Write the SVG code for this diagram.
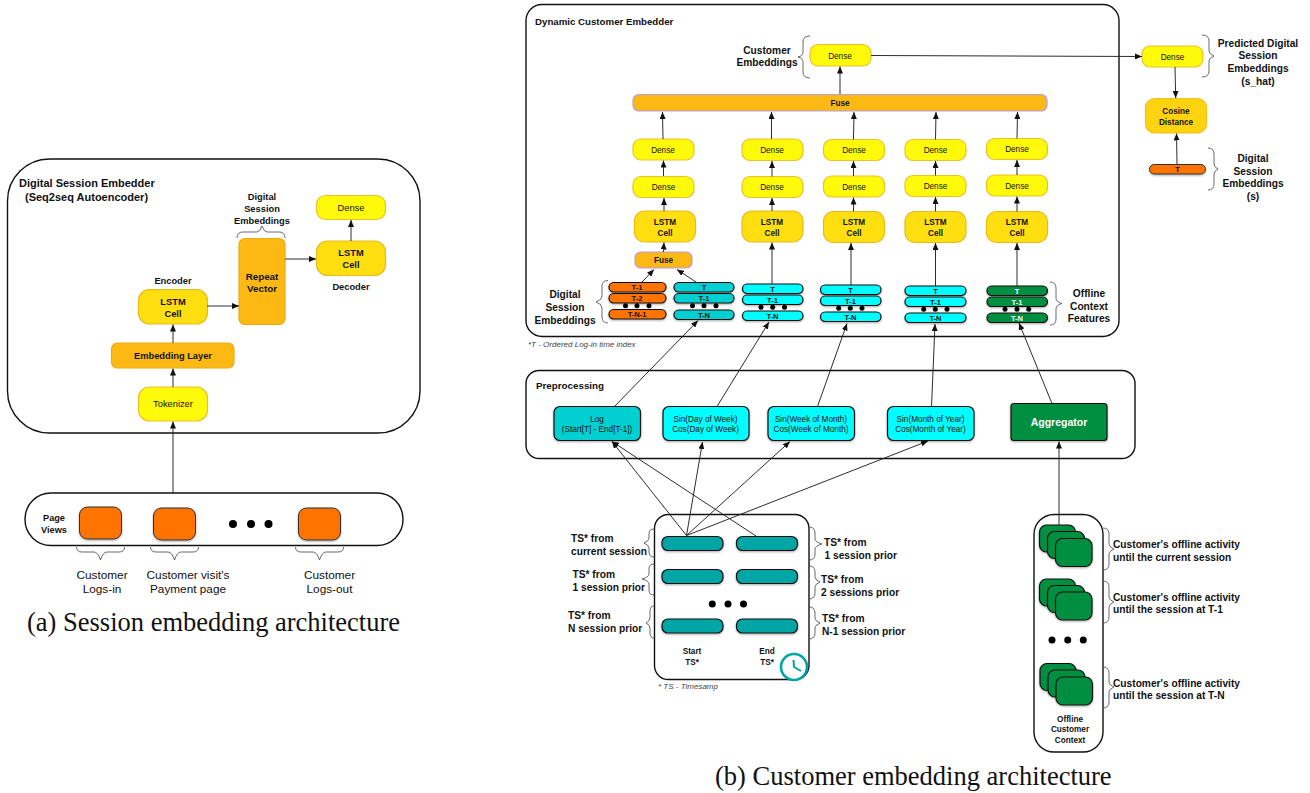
<svg xmlns="http://www.w3.org/2000/svg" width="1310" height="793" viewBox="0 0 1310 793">
<style>
text{font-family:"Liberation Sans",Arial,sans-serif;fill:#111;text-anchor:middle}
.b{font-weight:700}
.l{text-anchor:start}
.s8{font-size:8.2px}.s9{font-size:9.3px}.s98{font-size:9.8px}.s10{font-size:10.2px}.s11{font-size:11px}.s12{font-size:11.8px}
.it{font-style:italic;font-size:8px;fill:#444;text-anchor:start}
.cap{font-family:"Liberation Serif","Times New Roman",serif;font-size:26.5px;text-anchor:start}
.panel{fill:#fff;stroke:#111;stroke-width:1.4}
.y{fill:#FFF90A;stroke:#EBC12B;stroke-width:1.2}
.ls{fill:#FFDF10;stroke:#E9BA1E;stroke-width:1.2}
.am{fill:#FDB913;stroke:#EFAA12;stroke-width:1.2}
.fu{fill:#FDB913;stroke:#B89CE2;stroke-width:1.2}
.co{fill:#FFD30F;stroke:#F2BE1A;stroke-width:1.2}
.or{fill:#FF7300;stroke:#333;stroke-width:1;filter:url(#sh)}
.p{stroke:#111;stroke-width:1.2;filter:url(#sh)}
.tl{fill:#00D0D2}.cy{fill:#00FDFF}.gr{fill:#008E40}.bar{fill:#00A5A5}
.dot{fill:#000}
.w{fill:#fff}
.br{fill:none;stroke:#444;stroke-width:.8}
.c line{stroke:#222;stroke-width:.95;marker-end:url(#a)}
</style>
<defs>
<marker id="a" markerUnits="userSpaceOnUse" markerWidth="7" markerHeight="6" refX="7" refY="3" orient="auto"><path d="M0 0L7 3L0 6z" fill="#111"/></marker>
<filter id="sh" x="-20%" y="-30%" width="140%" height="170%"><feDropShadow dx="0" dy="1" stdDeviation="1" flood-color="#000" flood-opacity=".35"/></filter>
</defs>

<g id="session-embedder">
<rect class="panel" x="7.5" y="159" width="412.5" height="274" rx="42"/>
<text class="b s11 l" x="19" y="187">Digital Session Embedder</text>
<text class="b s11 l" x="25" y="201">(Seq2seq Autoencoder)</text>
</g>
<g id="dense-a"><rect class="y" x="316.500" y="195.500" width="69" height="24" rx="9"/><text class="s9" x="351" y="210.500">Dense</text></g>
<g id="decoder-lstm"><rect class="ls" x="316.500" y="241" width="69" height="34.500" rx="11"/><text class="b s9" x="351" y="256">LSTM</text><text class="b s9" x="351" y="268">Cell</text></g>
<text class="b s9" x="351" y="289.500">Decoder</text>
<g id="repeat-vector"><rect class="am" x="239" y="238.500" width="46" height="86" rx="6"/><text class="b s98" x="262" y="279.500">Repeat</text><text class="b s98" x="262" y="291.500">Vector</text></g>
<g id="emb-label"><text class="b s9" x="262" y="199.500">Digital</text><text class="b s9" x="262" y="211.500">Session</text><text class="b s9" x="262" y="223.500">Embeddings</text><path class="br" d="M237 238Q237 232 243 232L257 232Q260 232 262 226Q264 232 267 232L279 232Q285 232 285 238"/></g>
<g id="encoder-lstm"><rect class="ls" x="138.500" y="289.500" width="69" height="34.500" rx="11"/><text class="b s9" x="173" y="304.500">LSTM</text><text class="b s9" x="173" y="316.500">Cell</text></g>
<text class="b s9" x="173" y="283.500">Encoder</text>
<g id="embedding-layer"><rect class="am" x="111.500" y="343" width="122.500" height="25" rx="6"/><text class="b s9" x="173" y="359">Embedding Layer</text></g>
<g id="tokenizer"><rect class="y" x="138.500" y="387" width="69" height="34" rx="11"/><text class="s9" x="173" y="407">Tokenizer</text></g>

<g id="page-views">
<rect class="panel" x="25" y="493" width="378" height="52.500" rx="26"/>
<text class="b" font-size="9.200" x="54" y="520.500">Page</text><text class="b" font-size="9.200" x="54" y="532.500">Views</text>
<rect class="or" x="79.500" y="507" width="42" height="32" rx="8"/>
<rect class="or" x="153.500" y="508" width="42" height="32" rx="8"/>
<rect class="or" x="298.500" y="508" width="42" height="32" rx="8"/>
<circle class="dot" cx="233" cy="524" r="4"/><circle class="dot" cx="251" cy="524" r="4"/><circle class="dot" cx="268.500" cy="524" r="4"/>
</g>
<g id="page-labels">
<path class="br" d="M76.500 547Q76.500 552 82 552L94 552Q98 552 100.500 560Q103 552 107 552L119 552Q124.500 552 124.500 547"/>
<path class="br" d="M150.500 547Q150.500 552 156 552L168 552Q172 552 174.500 560Q177 552 181 552L193 552Q198.500 552 198.500 547"/>
<path class="br" d="M295.500 547Q295.500 552 301 552L313 552Q317 552 319.500 560Q322 552 326 552L338 552Q343.500 552 343.500 547"/>
<text class="s12" x="102" y="579">Customer</text><text class="s12" x="102" y="592.500">Logs-in</text>
<text class="s12" x="188" y="579">Customer visit's</text><text class="s12" x="188" y="592.500">Payment page</text>
<text class="s12" x="329.500" y="579">Customer</text><text class="s12" x="329.500" y="592.500">Logs-out</text>
</g>
<text class="cap" x="27" y="631">(a) Session embedding architecture</text>

<g id="customer-embedder">
<rect class="panel" x="526" y="4.500" width="593" height="332" rx="16"/>
<text class="b l" font-size="9.700" x="535" y="25">Dynamic Customer Embedder</text>
<text class="it" x="528" y="347">*T - Ordered Log-in time index</text>
</g>
<g id="customer-dense"><rect class="y" x="810" y="44.500" width="61" height="21.500" rx="8"/><text class="s8" x="840" y="58.500">Dense</text></g>
<g id="customer-emb-label"><text class="b s10" x="767" y="53.500">Customer</text><text class="b s10" x="767" y="66">Embeddings</text><path class="br" d="M810 36Q803 36 803 42L803 52Q803 56 798 57Q803 58 803 62L803 72Q803 78 810 78"/></g>
<g id="fuse-top"><rect class="fu" x="633" y="94.500" width="414" height="16.500" rx="6"/><text class="b s8" x="840" y="106">Fuse</text></g>

<g id="col1"><rect class="y" x="633" y="139" width="61" height="21" rx="8"/><text class="s8" x="663" y="152.500">Dense</text><rect class="y" x="633" y="176.500" width="61" height="21" rx="8"/><text class="s8" x="663.500" y="190">Dense</text><rect class="ls" x="634.500" y="211" width="61" height="31" rx="10"/><text class="b s8" x="665" y="224.500">LSTM</text><text class="b s8" x="665" y="235.500">Cell</text></g>
<g id="col2"><rect class="y" x="742" y="139" width="61" height="21.500" rx="8"/><text class="s8" x="772" y="153">Dense</text><rect class="y" x="742" y="176.500" width="61" height="21" rx="8"/><text class="s8" x="772" y="190">Dense</text><rect class="ls" x="742" y="211" width="61" height="31" rx="10"/><text class="b s8" x="772" y="224.500">LSTM</text><text class="b s8" x="772" y="235.500">Cell</text></g>
<g id="col3"><rect class="y" x="823.500" y="139.500" width="61" height="21" rx="8"/><text class="s8" x="854" y="153">Dense</text><rect class="y" x="823.500" y="176" width="61" height="21" rx="8"/><text class="s8" x="854" y="190">Dense</text><rect class="ls" x="823.500" y="211.500" width="61" height="31" rx="10"/><text class="b s8" x="854" y="225">LSTM</text><text class="b s8" x="854" y="236">Cell</text></g>
<g id="col4"><rect class="y" x="905" y="139.500" width="61" height="21" rx="8"/><text class="s8" x="935.500" y="153">Dense</text><rect class="y" x="905" y="175.500" width="61" height="21" rx="8"/><text class="s8" x="935.500" y="189">Dense</text><rect class="ls" x="905" y="211.500" width="61" height="31" rx="10"/><text class="b s8" x="935.500" y="225">LSTM</text><text class="b s8" x="935.500" y="236">Cell</text></g>
<g id="col5"><rect class="y" x="986.500" y="138.500" width="61" height="21" rx="8"/><text class="s8" x="1017" y="152">Dense</text><rect class="y" x="986.500" y="175" width="61" height="21" rx="8"/><text class="s8" x="1017" y="188.500">Dense</text><rect class="ls" x="986.500" y="211.500" width="61" height="31" rx="10"/><text class="b s8" x="1017" y="225">LSTM</text><text class="b s8" x="1017" y="236">Cell</text></g>
<g id="fuse-small"><rect class="fu" x="635" y="252" width="57" height="16" rx="6"/><text class="b s8" x="663.500" y="263">Fuse</text></g>

<g id="stack-orange"><rect class="p" fill="#FF7300" x="609" y="282.500" width="57" height="9.500" rx="4.700"/><rect class="p" fill="#FF7300" x="609" y="293.500" width="57" height="9.500" rx="4.700"/><rect class="p" fill="#FF7300" x="609" y="309.500" width="57" height="9.500" rx="4.700"/><text class="b" font-size="7.500" x="637" y="290">T-1</text><text class="b" font-size="7.500" x="637" y="301">T-2</text><text class="b" font-size="7.500" x="637" y="317">T-N-1</text><circle class="dot" cx="625.500" cy="305.800" r="2.500"/><circle class="dot" cx="637" cy="305.800" r="2.500"/><circle class="dot" cx="649" cy="305.800" r="2.500"/></g>
<g id="stack-1"><rect class="p tl" x="674" y="282.500" width="60" height="9.500" rx="4.700"/><rect class="p tl" x="674" y="293.500" width="60" height="9.500" rx="4.700"/><rect class="p tl" x="674" y="310" width="60" height="9.500" rx="4.700"/><text class="b" font-size="7.500" x="704" y="290">T</text><text class="b" font-size="7.500" x="704" y="301">T-1</text><text class="b" font-size="7.500" x="704" y="317.500">T-N</text><circle class="dot" cx="692.500" cy="305.800" r="2.500"/><circle class="dot" cx="704" cy="305.800" r="2.500"/><circle class="dot" cx="716" cy="305.800" r="2.500"/></g>
<g id="stack-2"><rect class="p cy" x="742.500" y="284" width="60.500" height="9.500" rx="4.700"/><rect class="p cy" x="742.500" y="295" width="60.500" height="9.500" rx="4.700"/><rect class="p cy" x="742.500" y="311" width="60.500" height="9.500" rx="4.700"/><text class="b" font-size="7.500" x="772.500" y="291.500">T</text><text class="b" font-size="7.500" x="772.500" y="302.500">T-1</text><text class="b" font-size="7.500" x="772.500" y="318.500">T-N</text><circle class="dot" cx="761" cy="307.300" r="2.500"/><circle class="dot" cx="772.700" cy="307.300" r="2.500"/><circle class="dot" cx="784.500" cy="307.300" r="2.500"/></g>
<g id="stack-3"><rect class="p cy" x="820.500" y="285" width="60.500" height="9.500" rx="4.700"/><rect class="p cy" x="820.500" y="296" width="60.500" height="9.500" rx="4.700"/><rect class="p cy" x="820.500" y="312" width="60.500" height="9.500" rx="4.700"/><text class="b" font-size="7.500" x="850.500" y="292.500">T</text><text class="b" font-size="7.500" x="850.500" y="303.500">T-1</text><text class="b" font-size="7.500" x="850.500" y="319.500">T-N</text><circle class="dot" cx="838.700" cy="308.300" r="2.500"/><circle class="dot" cx="850.300" cy="308.300" r="2.500"/><circle class="dot" cx="862" cy="308.300" r="2.500"/></g>
<g id="stack-4"><rect class="p cy" x="905" y="286" width="61" height="9.500" rx="4.700"/><rect class="p cy" x="905" y="297" width="61" height="9.500" rx="4.700"/><rect class="p cy" x="905" y="313" width="61" height="9.500" rx="4.700"/><text class="b" font-size="7.500" x="935.500" y="293.500">T</text><text class="b" font-size="7.500" x="935.500" y="304.500">T-1</text><text class="b" font-size="7.500" x="935.500" y="320.500">T-N</text><circle class="dot" cx="923.700" cy="309.300" r="2.500"/><circle class="dot" cx="935.300" cy="309.300" r="2.500"/><circle class="dot" cx="947" cy="309.300" r="2.500"/></g>
<g id="stack-5"><rect class="p gr" x="987" y="286" width="60.500" height="9.500" rx="4.700"/><rect class="p gr" x="987" y="297" width="60.500" height="9.500" rx="4.700"/><rect class="p gr" x="987" y="313" width="60.500" height="9.500" rx="4.700"/><text class="b w" font-size="7.500" x="1017" y="293.500">T</text><text class="b w" font-size="7.500" x="1017" y="304.500">T-1</text><text class="b w" font-size="7.500" x="1017" y="320.500">T-N</text><circle class="dot" cx="1005" cy="309.300" r="2.500"/><circle class="dot" cx="1017" cy="309.300" r="2.500"/><circle class="dot" cx="1028.700" cy="309.300" r="2.500"/></g>
<g id="digital-label"><text class="b s10" x="565" y="298">Digital</text><text class="b s10" x="565" y="311">Session</text><text class="b s10" x="565" y="323.500">Embeddings</text><path class="br" d="M608 280.500Q602 280.500 602 286L602 296Q602 300 596 302Q602 304 602 308L602 317Q602 323 608 323"/></g>
<g id="offline-label"><text class="b s10" x="1089" y="297">Offline</text><text class="b s10" x="1089" y="309.500">Context</text><text class="b s10" x="1089" y="322">Features</text><path class="br" d="M1050 282Q1056 282 1056 288L1056 298Q1056 302 1062 303.500Q1056 305 1056 309L1056 319Q1056 325 1050 325"/></g>

<g id="pred-dense"><rect class="y" x="1142" y="46" width="61" height="21" rx="8"/><text class="s8" x="1172.500" y="60">Dense</text></g>
<g id="cosine"><rect class="co" x="1145.500" y="98.500" width="61" height="34.500" rx="9"/><text class="b s8" x="1176" y="114">Cosine</text><text class="b s8" x="1176" y="124.500">Distance</text></g>
<g id="s-t"><rect class="or" x="1149.500" y="164.500" width="56" height="9.500" rx="4.700"/><text class="b" font-size="7.500" x="1177.500" y="172">T</text></g>
<g id="pred-label"><text class="b s10" x="1258" y="46.500">Predicted Digital</text><text class="b s10" x="1258" y="59">Session</text><text class="b s10" x="1258" y="71.500">Embeddings</text><text class="b s10" x="1258" y="84.500">(s_hat)</text><path class="br" d="M1202 35Q1209 35 1209 41L1209 51Q1209 54 1214 56Q1209 58 1209 61L1209 71Q1209 77 1202 77"/></g>
<g id="s-label"><text class="b s10" x="1253" y="161.500">Digital</text><text class="b s10" x="1253" y="174.500">Session</text><text class="b s10" x="1253" y="187">Embeddings</text><text class="b s10" x="1253" y="200">(s)</text><path class="br" d="M1208 148Q1214 148 1214 154L1214 164Q1214 167 1218 169Q1214 171 1214 174L1214 184Q1214 190 1208 190"/></g>

<g id="preprocessing">
<rect class="panel" x="526" y="370.500" width="609" height="88" rx="13"/>
<text class="b s98 l" x="536" y="388.500">Preprocessing</text>
</g>
<g id="pre-log"><rect class="p tl" x="554" y="406.500" width="86.500" height="34" rx="6"/><text class="s8" x="597" y="422">Log</text><text class="s8" x="597" y="431.500">(Start[T] - End[T-1])</text></g>
<g id="pre-day"><rect class="p cy" x="663" y="406.500" width="86" height="34" rx="6"/><text class="s8" x="705.500" y="422">Sin(Day of Week)</text><text class="s8" x="705.500" y="431.500">Cos(Day of Week)</text></g>
<g id="pre-week"><rect class="p cy" x="768" y="406.500" width="86.500" height="34" rx="6"/><text class="s8" x="811" y="422">Sin(Week of Month)</text><text class="s8" x="811" y="431.500">Cos(Week of Month)</text></g>
<g id="pre-month"><rect class="p cy" x="887.500" y="406.500" width="86.500" height="34" rx="6"/><text class="s8" x="930.500" y="422">Sin(Month of Year)</text><text class="s8" x="930.500" y="431.500">Cos(Month of Year)</text></g>
<g id="pre-agg"><rect class="p gr" x="1011" y="403.500" width="96" height="37" rx="3"/><text class="b w" font-size="10.500" x="1059" y="426">Aggregator</text></g>

<g id="timestamps">
<rect class="panel" x="654.500" y="514.500" width="154.500" height="165" rx="14"/>
<rect class="p bar" x="662" y="536.500" width="61" height="14" rx="6"/><rect class="p bar" x="736.500" y="536.500" width="61" height="14" rx="6"/>
<rect class="p bar" x="662" y="569.500" width="61" height="14" rx="6"/><rect class="p bar" x="736.500" y="569.500" width="61" height="14" rx="6"/>
<rect class="p bar" x="662" y="619" width="61" height="14" rx="6"/><rect class="p bar" x="736.500" y="619" width="61" height="14" rx="6"/>
<circle class="dot" cx="712.300" cy="604" r="3.500"/><circle class="dot" cx="728" cy="604" r="3.500"/><circle class="dot" cx="743.500" cy="604" r="3.500"/>
<text class="b s8" x="692" y="654">Start</text><text class="b s8" x="692" y="664.500">TS*</text>
<text class="b s8" x="767" y="654">End</text><text class="b s8" x="767" y="664.500">TS*</text>
<circle cx="794" cy="667" r="13" fill="#fff" stroke="#00A5A5" stroke-width="2.600"/><path d="M793.500 660L794 667L801 671" fill="none" stroke="#00A5A5" stroke-width="2"/>
<text class="it" x="658" y="689">* TS - Timesamp</text>
</g>
<g id="ts-labels">
<text class="b s10 l" x="571" y="542">TS* from</text><text class="b s10 l" x="571" y="555">current session</text>
<text class="b s10 l" x="572.500" y="578">TS* from</text><text class="b s10 l" x="572.500" y="591">1 session prior</text>
<text class="b s10 l" x="568" y="619">TS* from</text><text class="b s10 l" x="568" y="632">N session prior</text>
<text class="b s10 l" x="824" y="546">TS* from</text><text class="b s10 l" x="824.500" y="559">1 session prior</text>
<text class="b s10 l" x="821" y="583">TS* from</text><text class="b s10 l" x="821" y="595.500">2 sessions prior</text>
<text class="b s10 l" x="822" y="622">TS* from</text><text class="b s10 l" x="822" y="635">N-1 session prior</text>
<path class="br" d="M654 529Q649 529 649 534L649 538Q649 541 644 543Q649 545 649 548L649 552Q649 557 654 557"/>
<path class="br" d="M654 564Q649 564 649 569L649 574Q649 577 642 579Q649 581 649 584L649 590Q649 595 654 595"/>
<path class="br" d="M654 606Q650 606 650 611L650 618Q650 621 646 623Q650 625 650 628L650 633Q650 638 654 638"/>
<path class="br" d="M809 527Q815 527 815 533L815 539Q815 542 822 544Q815 546 815 549L815 554Q815 560 809 560"/>
<path class="br" d="M809 566Q815 566 815 572L815 577Q815 580 820 582Q815 584 815 587L815 593Q815 599 809 599"/>
<path class="br" d="M809 607Q815 607 815 613L815 618Q815 621 820 623Q815 625 815 628L815 633Q815 639 809 639"/>
</g>

<g id="offline-context">
<rect class="panel" x="1034" y="514.500" width="69" height="237.500" rx="20"/>
<g class="p" fill="#008E40">
<rect x="1039.500" y="525" width="36" height="27" rx="7"/><rect x="1047.500" y="531.500" width="37" height="27" rx="7"/><rect x="1055.500" y="538.500" width="36.500" height="28" rx="7"/>
<rect x="1039.500" y="579" width="36" height="27" rx="7"/><rect x="1047.500" y="585.500" width="37" height="27" rx="7"/><rect x="1055.500" y="592" width="36.500" height="28" rx="7"/>
<rect x="1040" y="663.500" width="36" height="27" rx="7"/><rect x="1048" y="670" width="37" height="27" rx="7"/><rect x="1056" y="677" width="36.500" height="28" rx="7"/>
</g>
<circle class="dot" cx="1052" cy="640" r="3.500"/><circle class="dot" cx="1067.700" cy="640" r="3.500"/><circle class="dot" cx="1083.300" cy="640" r="3.500"/>
<text class="b s8" x="1070" y="721.500">Offline</text><text class="b s8" x="1070" y="732">Customer</text><text class="b s8" x="1070" y="742.500">Context</text>
</g>
<g id="offline-labels">
<text class="b s10 l" x="1113" y="548">Customer's offline activity</text><text class="b s10 l" x="1113" y="560.500">until the current session</text>
<text class="b s10 l" x="1113" y="600.500">Customer's offline activity</text><text class="b s10 l" x="1113" y="613">until the session at T-1</text>
<text class="b s10 l" x="1113" y="686.500">Customer's offline activity</text><text class="b s10 l" x="1113" y="699">until the session at T-N</text>
<path class="br" d="M1103 528Q1109 528 1109 534L1109 544Q1109 547 1114 549Q1109 551 1109 554L1109 564Q1109 570 1103 570"/>
<path class="br" d="M1103 581Q1109 581 1109 587L1109 597Q1109 600 1114 602Q1109 604 1109 607L1109 617Q1109 623 1103 623"/>
<path class="br" d="M1103 667Q1109 667 1109 673L1109 682Q1109 685 1114 687Q1109 689 1109 692L1109 702Q1109 708 1103 708"/>
</g>
<text class="cap" x="715" y="784.500">(b) Customer embedding architecture</text>

<g id="connectors" class="c">
<line x1="173" y1="493" x2="173" y2="421.500"/>
<line x1="173" y1="387" x2="173" y2="368.500"/>
<line x1="173" y1="343" x2="173" y2="324.500"/>
<line x1="207" y1="306" x2="239" y2="306"/>
<line x1="285" y1="259" x2="316" y2="259"/>
<line x1="351" y1="241" x2="351" y2="220"/>
<line x1="840" y1="94" x2="840" y2="66.500"/>
<line x1="871" y1="55.500" x2="1142" y2="56.500"/>
<line x1="1175" y1="67" x2="1175.700" y2="98"/>
<line x1="1177" y1="164" x2="1176.500" y2="133.500"/>
<line x1="663" y1="139" x2="662.500" y2="112"/>
<line x1="663.500" y1="176" x2="663.500" y2="160.500"/>
<line x1="664" y1="211" x2="664" y2="198"/>
<line x1="663.500" y1="252" x2="664" y2="242.500"/>
<line x1="642" y1="282" x2="654" y2="269.500"/>
<line x1="696" y1="282" x2="677" y2="269.500"/>
<line x1="771.500" y1="139" x2="771.500" y2="112"/>
<line x1="772" y1="176.500" x2="772" y2="161"/>
<line x1="772" y1="211" x2="772" y2="198"/>
<line x1="772" y1="284" x2="772" y2="242.500"/>
<line x1="853.500" y1="139.500" x2="854" y2="112"/>
<line x1="853.500" y1="176" x2="853.500" y2="161"/>
<line x1="853.500" y1="211.500" x2="853.500" y2="197.500"/>
<line x1="851" y1="285" x2="851" y2="243"/>
<line x1="935.500" y1="139.500" x2="936" y2="112"/>
<line x1="935.500" y1="175.500" x2="935.500" y2="161"/>
<line x1="935.500" y1="211.500" x2="935.500" y2="197"/>
<line x1="935.500" y1="286" x2="935.500" y2="243"/>
<line x1="1017" y1="138.500" x2="1017.500" y2="112"/>
<line x1="1017" y1="175" x2="1017" y2="160"/>
<line x1="1017" y1="211.500" x2="1017" y2="196.500"/>
<line x1="1017" y1="286" x2="1017" y2="243"/>
<line x1="614.500" y1="406.500" x2="698" y2="320.500"/>
<line x1="717" y1="406.500" x2="769" y2="322"/>
<line x1="817.500" y1="406.500" x2="847" y2="323.500"/>
<line x1="931.500" y1="406.500" x2="935" y2="324"/>
<line x1="1052" y1="403.500" x2="1019" y2="323"/>
<line x1="1059" y1="525" x2="1059" y2="441.500"/>
<line x1="686.500" y1="535.500" x2="612" y2="441.500"/>
<line x1="756" y1="536" x2="612" y2="441.500"/>
<line x1="686.500" y1="535.500" x2="702.500" y2="442"/>
<line x1="686.500" y1="535.500" x2="790" y2="441.500"/>
<line x1="686.500" y1="535.500" x2="928" y2="441"/>
</g>
</svg>
